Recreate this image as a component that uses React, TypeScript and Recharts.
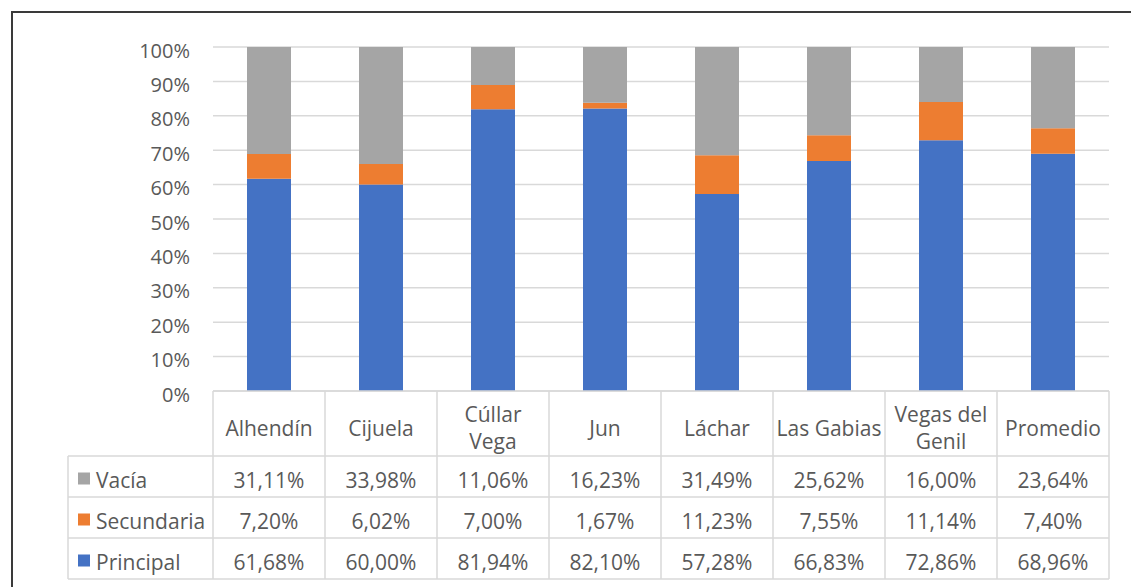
import { BarChart, Bar, XAxis, YAxis, CartesianGrid } from "recharts";

const categories = [
  "Alhendín",
  "Cijuela",
  "Cúllar\nVega",
  "Jun",
  "Láchar",
  "Las Gabias",
  "Vegas del\nGenil",
  "Promedio",
];

const principal = [61.68, 60.0, 81.94, 82.1, 57.28, 66.83, 72.86, 68.96];
const secundaria = [7.2, 6.02, 7.0, 1.67, 11.23, 7.55, 11.14, 7.4];
const vacia = [31.11, 33.98, 11.06, 16.23, 31.49, 25.62, 16.0, 23.64];

const yTicks = [0, 10, 20, 30, 40, 50, 60, 70, 80, 90, 100];

// series as they stack, bottom to top
const seriesKeys = ["principal", "secundaria", "vacia"];
const seriesNames = ["Principal", "Secundaria", "Vacía"];
const seriesColors = ["#4472C4", "#ED7D31", "#A5A5A5"];

const data = categories.map((name, i) => ({
  name,
  principal: principal[i],
  secundaria: secundaria[i],
  vacia: vacia[i],
}));

const W = 1131;
const H = 587;
const LEFT = 213;
const RIGHT = 22;
const TOP = 47;
const BOTTOM = 8;
const TABLE_H = 188;
const CELL = (W - LEFT - RIGHT) / categories.length;
const PLOT_BOTTOM = H - BOTTOM - TABLE_H;
const HEADER_BOTTOM = PLOT_BOTTOM + 65;
const ROW_H = 41;
const LEGEND_LEFT = 68;

const FONT = "'Open Sans', sans-serif";
const TEXT = "#595959";
const LINE = "#D9D9D9";

const fmt = (v: number) => v.toFixed(2).replace(".", ",") + "%";

// table rows are listed top to bottom, reverse of the stack
const rowOrder = [2, 1, 0];
const rowValues = [principal, secundaria, vacia];

const TableColumn = (props: any) => {
  const { x, payload } = props;
  const i: number = payload?.index ?? props.index ?? 0;
  const left = x - CELL / 2;
  const right = x + CELL / 2;
  const lines = String(payload.value).split("\n");
  const hLines = [PLOT_BOTTOM, HEADER_BOTTOM, ...rowOrder.map((_, r) => HEADER_BOTTOM + ROW_H * (r + 1))];
  const tableBottom = HEADER_BOTTOM + ROW_H * rowOrder.length;
  const headerMid = (PLOT_BOTTOM + HEADER_BOTTOM) / 2 + 4;

  return (
    <g fontFamily={FONT} fontSize={21} fill={TEXT}>
      {hLines.map((y) => (
        <line key={y} x1={left} x2={right} y1={y} y2={y} stroke={LINE} strokeWidth={1.5} />
      ))}
      <line x1={left} x2={left} y1={PLOT_BOTTOM} y2={tableBottom} stroke={LINE} strokeWidth={1.5} />
      {i === categories.length - 1 && (
        <line x1={right} x2={right} y1={PLOT_BOTTOM} y2={tableBottom} stroke={LINE} strokeWidth={1.5} />
      )}
      {lines.map((t, k) => (
        <text
          key={k}
          x={x}
          y={headerMid + (k - (lines.length - 1) / 2) * 27}
          textAnchor="middle"
          dominantBaseline="central"
        >
          {t}
        </text>
      ))}
      {rowOrder.map((s, r) => (
        <text
          key={s}
          x={x}
          y={HEADER_BOTTOM + ROW_H * r + ROW_H / 2 + 3}
          textAnchor="middle"
          dominantBaseline="central"
        >
          {fmt(rowValues[s][i])}
        </text>
      ))}
      {i === 0 && (
        <g>
          {hLines.slice(1).map((y) => (
            <line key={y} x1={LEGEND_LEFT} x2={left} y1={y} y2={y} stroke={LINE} strokeWidth={1.5} />
          ))}
          <line x1={LEGEND_LEFT} x2={LEGEND_LEFT} y1={HEADER_BOTTOM} y2={tableBottom} stroke={LINE} strokeWidth={1.5} />
          {rowOrder.map((s, r) => {
            const cy = HEADER_BOTTOM + ROW_H * r + ROW_H / 2 + 2;
            return (
              <g key={s}>
                <rect x={LEGEND_LEFT + 10} y={cy - 6} width={12} height={12} fill={seriesColors[s]} />
                <text x={LEGEND_LEFT + 28} y={cy + 1} dominantBaseline="central" textAnchor="start">
                  {seriesNames[s]}
                </text>
              </g>
            );
          })}
        </g>
      )}
    </g>
  );
};

const YTick = (props: any) => {
  const { x, y, payload } = props;
  return (
    <text
      x={x}
      y={y + 3}
      textAnchor="end"
      dominantBaseline="central"
      fontFamily={FONT}
      fontSize={20}
      fill={TEXT}
    >
      {`${payload.value}%`}
    </text>
  );
};

export default function App() {
  return (
    <div
      style={{
        position: "absolute",
        left: 0,
        top: 0,
        width: W,
        height: H,
        background: "#fff",
        overflow: "hidden",
      }}
    >
      <div
        style={{
          position: "absolute",
          left: 11,
          top: 11,
          width: 1400,
          height: 900,
          borderTop: "2px solid #3a3a3a",
          borderLeft: "2px solid #3a3a3a",
        }}
      />
      <div style={{ position: "absolute", left: 0, top: 0 }}>
        <BarChart
          width={W}
          height={H}
          data={data}
          margin={{ top: TOP, right: RIGHT, bottom: BOTTOM, left: 0 }}
          barSize={44}
        >
          <CartesianGrid vertical={false} stroke={LINE} strokeWidth={1.5} />
          <XAxis
            dataKey="name"
            height={TABLE_H}
            axisLine={false}
            tickLine={false}
            tickSize={0}
            tickMargin={0}
            interval={0}
            tick={<TableColumn />}
          />
          <YAxis
            width={LEFT}
            domain={[0, 100]}
            ticks={yTicks}
            axisLine={false}
            tickLine={false}
            tickSize={0}
            tickMargin={23}
            tick={<YTick />}
          />
          {seriesKeys.map((k, s) => (
            <Bar
              key={k}
              dataKey={k}
              name={seriesNames[s]}
              stackId="a"
              fill={seriesColors[s]}
              isAnimationActive={false}
            />
          ))}
        </BarChart>
      </div>
    </div>
  );
}
